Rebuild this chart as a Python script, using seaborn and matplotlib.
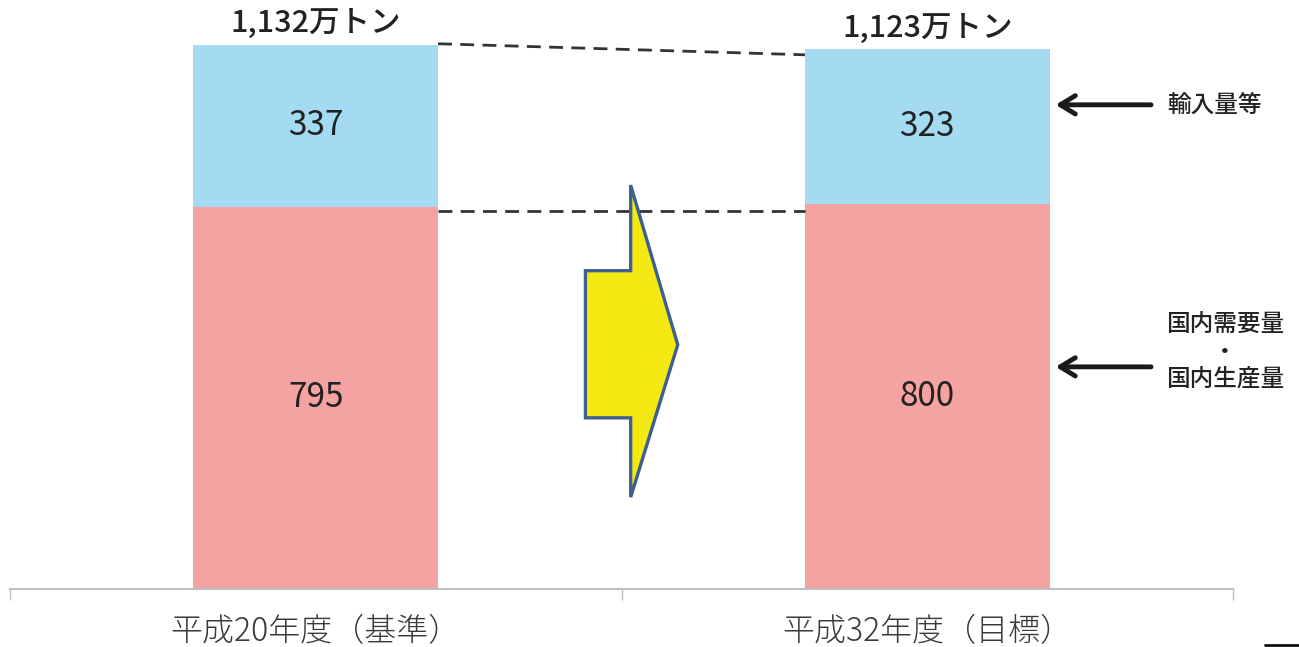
import matplotlib
matplotlib.use("Agg")
import matplotlib.pyplot as plt
import seaborn as sns
import pandas as pd
from matplotlib.patches import Polygon
from matplotlib.lines import Line2D

sns.set_theme(style="white")
plt.rcParams['font.family'] = ['Noto Sans CJK JP', 'DejaVu Sans']

categories = ["平成20年度（基準）", "平成32年度（目標）"]
domestic = [795, 800]
imports = [337, 323]
totals = [d + i for d, i in zip(domestic, imports)]
total_labels = ["1,132万トン", "1,123万トン"]
legend_import = "輸入量等"
legend_domestic = "国内需要量\n・\n国内生産量"

blue = "#a5daf3"
red = "#f5a2a2"

W, H = 1299, 647
fig = plt.figure(figsize=(W / 100, H / 100), dpi=100)
ax = fig.add_axes([10 / W, (H - 589) / H, (1233 - 10) / W, 589 / H])

df = pd.DataFrame({"cat": categories, "total": totals, "dom": domestic})
sns.barplot(data=df, x="cat", y="total", color=blue, width=0.4, ax=ax,
            saturation=1, edgecolor="none", linewidth=0)
sns.barplot(data=df, x="cat", y="dom", color=red, width=0.4, ax=ax,
            saturation=1, edgecolor="none", linewidth=0)

ax.set_xlim(-0.5, 1.5)
ax.set_ylim(0, 1225)
ax.set_xlabel("")
ax.set_ylabel("")
ax.set_yticks([])
for s in ["top", "left", "right"]:
    ax.spines[s].set_visible(False)
ax.spines["bottom"].set_color("#bfbfbf")
ax.spines["bottom"].set_linewidth(1.5)
ax.set_xticks([-0.5, 0.5, 1.5])
ax.set_xticklabels([])
ax.tick_params(axis="x", direction="out", length=8, width=1, color="#bfbfbf", bottom=True)

# category labels
for i, c in enumerate(categories):
    ax.annotate(c, xy=(i, 0), xytext=(0, -43), textcoords="offset pixels",
                ha="center", va="center", fontsize=23, color="#3a3a3a",
                fontweight="light", annotation_clip=False)

# value labels
for i in range(2):
    ax.text(i, domestic[i] / 2, f"{domestic[i]}", ha="center", va="center",
            fontsize=24, color="#222222")
    ax.text(i, domestic[i] + imports[i] / 2, f"{imports[i]}", ha="center", va="center",
            fontsize=24, color="#222222")
    ax.annotate(total_labels[i], xy=(i, totals[i]), xytext=(0, 21), textcoords="offset pixels",
                ha="center", va="center", fontsize=22, color="#222222",
                fontweight="medium", annotation_clip=False)

# dashed connectors
hw = 0.2
ax.plot([0 + hw, 1 - hw], [totals[0] + 2, totals[1] - 12], ls=(0, (5, 3)), lw=2, color="#333333")
ax.plot([0 + hw, 1 - hw], [domestic[0] - 8, domestic[0] - 8], ls=(0, (5, 3)), lw=2, color="#333333")

# block arrow (decorative)
arrow_pts = [(0.515, 840), (0.592, 508), (0.515, 191), (0.515, 356),
             (0.441, 356), (0.441, 662), (0.515, 662)]
ax.add_patch(Polygon(arrow_pts, closed=True, facecolor="#f5e914",
                     edgecolor="#3d6090", lw=2.4, joinstyle="miter", zorder=5))

# side arrows and labels
for yv in (1007, 462):
    ax.annotate("", xy=(1.21, yv), xytext=(1.366, yv),
                arrowprops=dict(arrowstyle="->,head_length=0.9,head_width=0.55", lw=3.5,
                                color="#1a1a1a", shrinkA=0, shrinkB=0), annotation_clip=False)
ax.text(1.393, 1007, legend_import, ha="left", va="center", fontsize=17,
        color="#222222", fontweight="medium")
ax.text(1.393 + 0.094, 462 + 30, legend_domestic, ha="center", va="center", fontsize=17,
        color="#222222", fontweight="medium", linespacing=1.2)

fig.add_artist(Line2D([1265 / W, 1.0], [1 - 645 / H, 1 - 645 / H], color="#111111", lw=2))

fig.savefig("out.png", dpi=100)
